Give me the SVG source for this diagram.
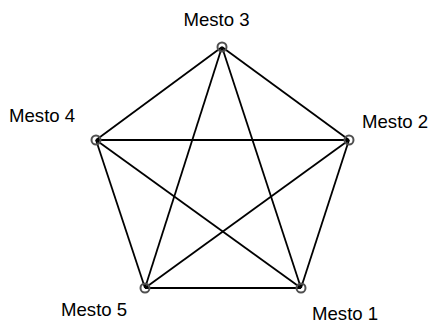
<svg xmlns="http://www.w3.org/2000/svg" width="432" height="324" viewBox="0 0 432 324">
<style>
.e{stroke:#000;stroke-width:1.8;fill:none}
.n{fill:none;stroke:#505050;stroke-width:2}
.t{font-family:"Liberation Sans",Arial,sans-serif;font-size:18.6px;fill:#000}
</style>
<rect width="432" height="324" fill="#fff"/>
<g id="connectors">
<line class="e" x1="222" y1="47" x2="96" y2="140"/>
<line class="e" x1="222" y1="47" x2="349" y2="140"/>
<line class="e" x1="222" y1="47" x2="145" y2="288"/>
<line class="e" x1="222" y1="47" x2="301" y2="288"/>
<line class="e" x1="96" y1="140" x2="349" y2="140"/>
<line class="e" x1="96" y1="140" x2="145" y2="288"/>
<line class="e" x1="96" y1="140" x2="301" y2="288"/>
<line class="e" x1="349" y1="140" x2="145" y2="288"/>
<line class="e" x1="349" y1="140" x2="301" y2="288"/>
<line class="e" x1="145" y1="288" x2="301" y2="288"/>
</g>
<g id="mesto3"><circle class="n" cx="222" cy="47" r="4.5"/><text class="t" x="216.5" y="26" text-anchor="middle">Mesto 3</text></g>
<g id="mesto4"><circle class="n" cx="96" cy="140" r="4.5"/><text class="t" x="9" y="122">Mesto 4</text></g>
<g id="mesto2"><circle class="n" cx="349" cy="140" r="4.5"/><text class="t" x="362" y="128">Mesto 2</text></g>
<g id="mesto5"><circle class="n" cx="145" cy="288" r="4.5"/><text class="t" x="61" y="316">Mesto 5</text></g>
<g id="mesto1"><circle class="n" cx="301" cy="288" r="4.5"/><text class="t" x="312" y="320">Mesto 1</text></g>
</svg>
